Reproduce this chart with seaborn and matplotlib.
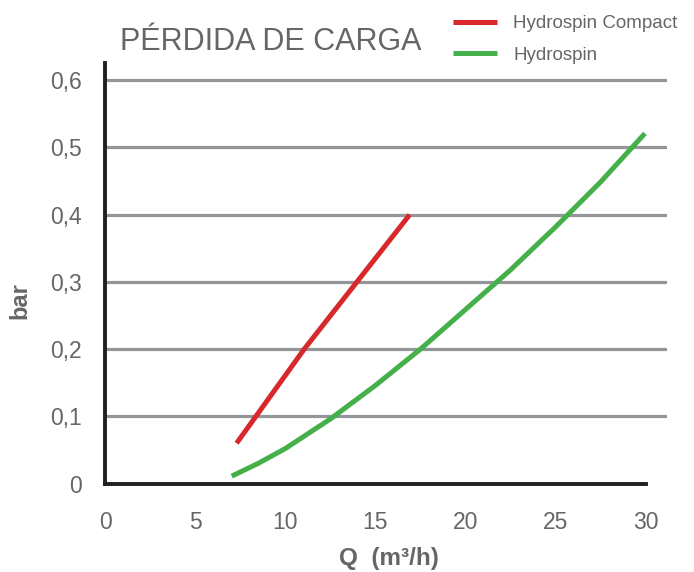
import matplotlib
matplotlib.use("Agg")
import matplotlib.pyplot as plt
import seaborn as sns
import pandas as pd

# Data
compact_q = [7.3, 11.05, 16.9]
compact_bar = [0.060, 0.200, 0.400]
hydro_q = [7.03, 8.5, 10.0, 12.5, 15.0, 17.5, 20.0, 22.5, 25.0, 27.5, 29.95]
hydro_bar = [0.011, 0.030, 0.052, 0.096, 0.146, 0.200, 0.259, 0.318, 0.382, 0.449, 0.521]
series_names = ["Hydrospin Compact", "Hydrospin"]
x_ticks = [0, 5, 10, 15, 20, 25, 30]
y_ticks = [0, 0.1, 0.2, 0.3, 0.4, 0.5, 0.6]
y_tick_labels = ["0", "0,1", "0,2", "0,3", "0,4", "0,5", "0,6"]

df = pd.DataFrame({
    "Q": compact_q + hydro_q,
    "bar": compact_bar + hydro_bar,
    "serie": [series_names[0]] * len(compact_q) + [series_names[1]] * len(hydro_q),
})

sns.set_style("white")
plt.rcParams["font.family"] = ["Liberation Sans", "DejaVu Sans"]

TEXT = "#666666"
GRID = "#939598"
AXC = "#231F20"
RED = "#D7282C"
GREEN = "#45B04A"

fig = plt.figure(figsize=(6.94, 5.72), dpi=100)
ax = fig.add_axes([0.1513, 0.1547, 0.9618 - 0.1513, 0.889 - 0.1547])

sns.lineplot(data=df, x="Q", y="bar", hue="serie", hue_order=series_names,
             palette=[RED, GREEN], linewidth=3.6, ax=ax, legend=True,
             solid_capstyle="butt", solid_joinstyle="round")

ax.set_xlim(0, 31.2)
ax.set_ylim(0, 0.625)

ax.set_xticks(x_ticks)
ax.set_xticklabels([str(v) for v in x_ticks])
ax.set_yticks(y_ticks)
ax.set_yticklabels(y_tick_labels)

ax.grid(axis="y", color=GRID, linewidth=2.3)
ax.grid(axis="x", visible=False)
ax.set_axisbelow(True)
ax.get_ygridlines()[0].set_visible(False)

for s in ["top", "right"]:
    ax.spines[s].set_visible(False)
for s in ["left", "bottom"]:
    ax.spines[s].set_color(AXC)
    ax.spines[s].set_linewidth(2.8)
    ax.spines[s].set_zorder(5)
ax.spines["bottom"].set_bounds(0, 30)

ax.tick_params(axis="x", direction="out", length=7, width=2.4, color=AXC,
               labelsize=16.5, labelcolor=TEXT, pad=13)
ax.tick_params(axis="y", direction="out", length=8, width=2.4, color=AXC,
               labelsize=16.5, labelcolor=TEXT, pad=8.5)

ax.set_xlabel("Q  (m³/h)", fontsize=17.5, fontweight="bold", color=TEXT,
              va="center")
ax.set_ylabel("bar", fontsize=17, fontweight="bold", color=TEXT,
              va="center")
ax.xaxis.set_label_coords(0.505, -0.178)
ax.yaxis.set_label_coords(-0.151, 0.435)

fig.text(0.173, 0.927, "PÉRDIDA DE CARGA", fontsize=22, color=TEXT,
         ha="left", va="center")

handles, labels = ax.get_legend_handles_labels()
leg = ax.legend(handles=handles, labels=labels, loc="upper left",
                bbox_to_anchor=(0.648, 0.98), bbox_transform=fig.transFigure,
                frameon=False, fontsize=13.5, handlelength=2.3,
                handletextpad=0.9, labelspacing=0.75, borderaxespad=0,
                borderpad=0.2)
for t in leg.get_texts():
    t.set_color(TEXT)
for h in leg.get_lines():
    h.set_linewidth(3.6)

fig.savefig("out.png", dpi=100)
